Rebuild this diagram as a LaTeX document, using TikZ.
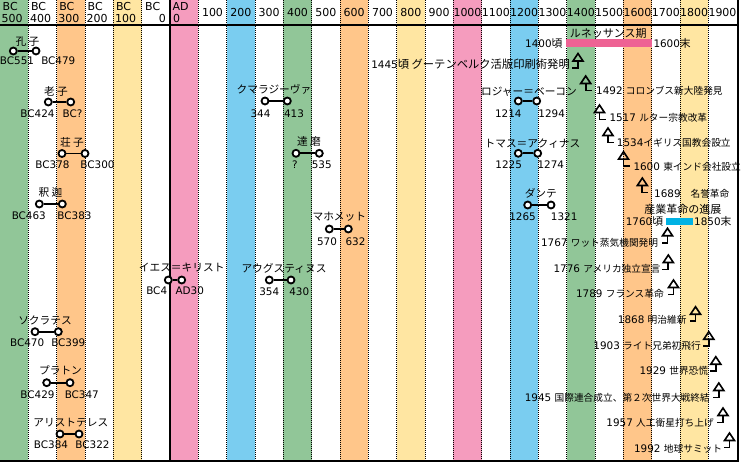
\documentclass[tikz,border=0pt]{standalone}
\usepackage{fontspec}
\setmainfont{DejaVu Sans}
\newfontfamily\jpf{Noto Sans CJK JP}
\newcommand\jp[1]{{\fontsize{9.7}{11}\jpf #1}}
\newcommand\jq[1]{{\fontsize{10.8}{12}\jpf #1}}
\newcommand\jr[1]{{\fontsize{11.3}{12}\jpf #1}}
\definecolor{cgreen}{RGB}{145,198,152}
\definecolor{corange}{RGB}{255,198,138}
\definecolor{cyellow}{RGB}{255,230,162}
\definecolor{cpink}{RGB}{245,156,190}
\definecolor{cblue}{RGB}{122,205,240}
\definecolor{renbar}{RGB}{238,98,148}
\definecolor{indbar}{RGB}{0,178,228}
\tikzset{
  dotline/.style={line width=0.6pt, dash pattern=on 0.8pt off 1.2pt},
  frameline/.style={line width=2pt},
  hdr/.style={inner sep=0pt, font=\fontsize{11}{12}\selectfont, text height=0.7em, text depth=0pt},
  who/.style={inner sep=0pt, font=\fontsize{10.7}{12}\jpf, text height=0.86em, text depth=0.1em},
  date/.style={inner sep=0pt, font=\fontsize{10.4}{12}\selectfont, text height=0.72em, text depth=0pt},
  evt/.style={inner sep=0pt, font=\fontsize{10.4}{12}\selectfont, text height=0.86em, text depth=0.1em},
  ring/.style={circle, draw, line width=1.8pt, fill=white, minimum size=7pt, inner sep=0pt},
  life/.style={line width=1.8pt},
  bar/.style={inner sep=0pt, minimum height=7.4pt},
  pics/evarrow/.style={code={
    \draw[line width=1.6pt, line join=miter] (0,0) -- (5,7.5) -- (-5,7.5) -- cycle;
    \draw[line width=1.8pt] (0,7.5) -- (0,14.5) -- (#1,14.5);
  }}
}
\begin{document}
\begin{tikzpicture}[x=1pt,y=-1pt]
\useasboundingbox (0,0) rectangle (752,462);
\fill[white] (0,0) rectangle (752,462);
% colour bands
\foreach \i/\c in {-6/cgreen,-4/corange,-2/cyellow,0/cpink,2/cblue,4/cgreen,6/corange,8/cyellow,10/cpink,12/cblue,14/cgreen,16/corange,18/cyellow}
  \fill[\c] ({170+\i*28.333},0) rectangle ({170+(\i+1)*28.333},461);
% dotted column lines
\foreach \i in {-5,-4,-3,-2,-1,1,2,...,19}
  \draw[dotline] ({170+\i*28.333},0) -- ({170+\i*28.333},461);
% header labels BC
\foreach \i in {-6,...,-2}{
  \pgfmathtruncatemacro\yr{(-1-\i)*100}
  \node[hdr, anchor=west] (hb\yr) at ({170+\i*28.333+2.5},7.5) {BC};
  \node[hdr, anchor=west] (hn\yr) at ({170+\i*28.333+1.5},19) {\yr};
}
\node[hdr, anchor=west] (hbz) at (145,7.5) {BC};
\node[hdr, anchor=east] (hnz) at (166,19) {0};
\node[hdr, anchor=west] (had) at (172.5,7.5) {AD};
\node[hdr, anchor=west] (hadz) at (173,19) {0};
\foreach \i in {1,...,19}{
  \pgfmathtruncatemacro\yr{\i*100}
  \node[hdr] (h\i) at ({170+(\i+0.5)*28.333},13.5) {\yr};
}
% frame
\draw[frameline] (0,25) -- (738,25);
\draw[frameline] (170,0) -- (170,461);
\draw[frameline] (738,0) -- (738,462);
\draw[frameline] (0,461) -- (739,461);
% persons
\foreach \lab/\lx/\ly/\cy/\xa/\xb/\da/\dax/\db/\dbx/\dy [count=\n] in {
  孔 子/27.5/42/51/13.3/36/BC551/17/BC479/58.3/61,
  老 子/56/92/102/48.3/70.7/BC424/37.5/BC?/72.5/114,
  荘 子/72/143/153.5/62/85/BC378/52.5/BC300/97.5/165,
  釈 迦/50.5/193/204/39.3/62.3/BC463/28.8/BC383/74.5/216,
  イエス＝キリスト/181.7/268/280/168.3/181.7/BC4/156.7/AD30/189.7/291,
  ソクラテス/45/320.7/331.7/35/58.3/BC470/27.2/BC399/68.3/342.7,
  プラトン/60.5/371/382.7/46.7/70/BC429/37.5/BC347/81.8/395,
  アリストテレス/70.8/422.7/434/60/79/BC384/51/BC322/92.5/445,
  クマラジーヴァ/274/90/101/265/287.3/344/260.5/413/294/114.3,
  達 磨/309/141.7/153.3/296/319.3/?/295/535/321.7/165,
  マホメット/339.3/216.7/229/329.3/348.3/570/327/632/355.5/241.7,
  アウグスティヌス/284/269/280/269.3/291/354/269.2/430/299.3/291.7,
  ロジャー＝ベーコン/529/91.7/101/518.3/536.7/1214/508.3/1294/551.7/114.3,
  トマス＝アクィナス/532.5/144/153.3/518.3/537.7/1225/508.7/1274/550.8/165,
  ダンテ/540.8/193.3/205/527.7/551/1265/522.5/1321/564.2/216.7}{
  \node[who] (w\n) at (\lx,\ly) {\lab};
  \node[ring] (a\n) at (\xa,\cy) {};
  \node[ring] (b\n) at (\xb,\cy) {};
  \draw[life] (a\n) -- (b\n);
  \node[date] (da\n) at (\dax,\dy) {\da};
  \node[date] (db\n) at (\dbx,\dy) {\db};
}
% periods
\node[who, font=\fontsize{11}{12}\jpf] (ren) at (608.3,33.3) {ルネッサンス期};
\node[bar, fill=renbar, minimum width=85.7pt] (renb) at (608.85,43) {};
\node[evt, anchor=east] (ren1) at (562.7,43.3) {1400\jq{頃}};
\node[evt, anchor=west] (ren2) at (653.3,43.3) {1600\jq{末}};
\node[who, font=\fontsize{11}{12}\jpf] (ind) at (682.8,210) {産業革命の進展};
\node[bar, fill=indbar, minimum width=27pt] (indb) at (679.2,221.4) {};
\node[evt, anchor=east] (ind1) at (663.3,221.7) {1760\jq{頃}};
\node[evt, anchor=west] (ind2) at (694,221.7) {1850\jq{末}};
% events with text on the right
\foreach \cx/\t/\tx/\ty/\txt [count=\n] in {
  585.7/76/596/90.7/1492 \jp{コロンブス新大陸発見},
  599.5/105/609.3/117.3/1517 \jp{ルター宗教改革},
  608/128/616.7/142.7/1534\jp{イギリス国教会設立},
  623.5/151.7/633.3/166.7/1600 \jp{東インド会社設立},
  642.3/178/654/193.3/1689\ \ \ \jp{名誉革命}}{
  \pic at (\cx,\t) {evarrow=6};
  \node[evt, anchor=west] (er\n) at (\tx,\ty) {\txt};
}
% events with text on the left
\foreach \cx/\t/\tx/\ty/\txt [count=\n] in {
  578/53.5/570/65/1445\jr{頃 グーテンベルク活版印刷術発明},
  667.5/228.3/658.3/242.3/1767 \jp{ワット蒸気機関発明},
  668.3/255/660.7/269/1776 \jp{アメリカ独立宣言},
  673.5/280/664/294/1789 \jp{フランス革命},
  695.5/306.7/686.7/320/1868 \jp{明治維新},
  708.8/331.7/701/345.7/1903 \jp{ライト兄弟初飛行},
  715.8/356.7/708.3/370.7/1929 \jp{世界恐慌},
  718.8/383/710/397.3/1945 \jp{国際連合成立、第２次世界大戦終結},
  723/408/714/422.7/1957 \jp{人工衛星打ち上げ},
  729.5/433/722.3/449/1992 \jp{地球サミット}}{
  \pic at (\cx,\t) {evarrow=-6};
  \node[evt, anchor=east] (el\n) at (\tx,\ty) {\txt};
}
\end{tikzpicture}
\end{document}
